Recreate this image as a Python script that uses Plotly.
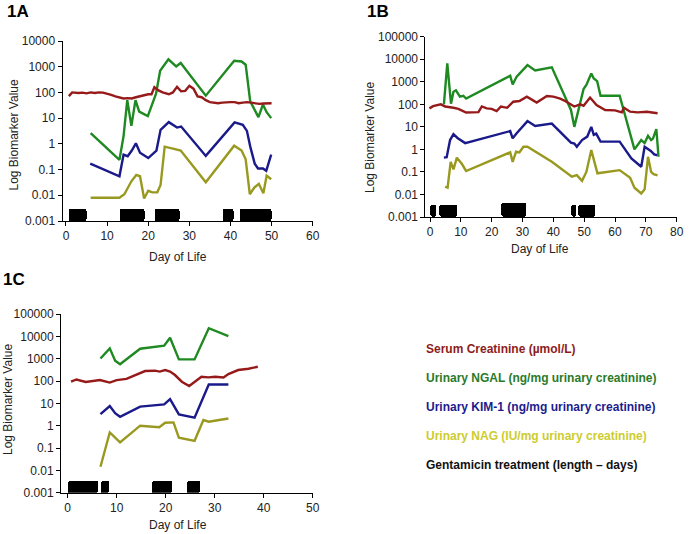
import plotly.graph_objects as go

# ---------------- Panel 1A ----------------
a_cr_day = [0.7, 1.5, 3, 4, 5, 6, 7, 8, 9, 10, 11, 12, 13, 14, 15, 16, 17, 18, 19, 20, 20.8, 21.5, 22.5, 23.5, 25, 26, 27, 28, 29, 30, 31, 32, 33, 34, 35, 36, 37, 38, 39, 40, 41, 42, 43, 44, 45, 46, 47, 48, 50]
a_cr = [72, 100, 95, 98, 92, 100, 95, 100, 98, 90, 80, 70, 62, 58, 60, 58, 65, 72, 80, 85, 85, 160, 120, 100, 85, 100, 165, 110, 115, 180, 140, 70, 65, 50, 42, 40, 38, 40, 42, 42, 42, 38, 40, 42, 40, 38, 36, 37, 38]
a_ngal_day = [6.0, 13.0, 14.0, 14.9, 15.9, 16.9, 17.8, 19.9, 21.9, 22.9, 24.9, 26.8, 27.9, 34.0, 40.9, 42.7, 43.7, 44.8, 46.8, 47.9, 48.8, 49.9]
a_ngal = [2.6, 0.24, 2.0, 50, 5, 50, 18, 12, 90, 700, 1950, 1020, 1400, 75, 1700, 1600, 1200, 45, 11, 34, 17, 10]
a_kim_day = [5.9, 13.0, 14.0, 15.0, 16.0, 17.0, 18.0, 20.0, 22.0, 23.0, 25.0, 27.0, 28.0, 34.0, 41.0, 43.0, 44.0, 44.8, 45.9, 46.7, 47.9, 48.7, 49.9]
a_kim = [0.17, 0.055, 0.38, 0.33, 0.55, 1.05, 0.45, 0.28, 0.55, 3.5, 7, 4.3, 4.7, 0.34, 6.8, 5.5, 3.2, 0.8, 0.17, 0.11, 0.11, 0.09, 0.38]
a_nag_day = [6.0, 13.0, 14.2, 15.9, 17.1, 18.0, 19.0, 20.0, 21.0, 22.2, 23.0, 24.0, 26.0, 27.9, 34.0, 40.9, 42.7, 43.7, 44.7, 45.8, 46.9, 48.0, 48.8, 49.9]
a_nag = [0.008, 0.008, 0.011, 0.035, 0.062, 0.055, 0.0075, 0.015, 0.013, 0.013, 0.025, 0.78, 0.65, 0.55, 0.032, 0.85, 0.55, 0.25, 0.011, 0.02, 0.028, 0.012, 0.058, 0.042]
a_gent_start = [0.6, 13.1, 21.5, 38.1, 42.3]
a_gent_end = [4.9, 19.2, 27.7, 40.8, 49.9]
a_gent_top = [0.0029] * 5

# ---------------- Panel 1B ----------------
b_cr_day = [-0.2, 1.0, 3.5, 4.9, 7.6, 9.2, 11.7, 15.7, 16.8, 18.4, 20.0, 21.6, 23.0, 25.0, 27.0, 29.0, 31.4, 34.6, 37.9, 40.0, 42.2, 43.8, 46.8, 48.7, 49.8, 51.9, 54.0, 56.8, 60.0, 62.2, 62.9, 64.9, 67.3, 70.3, 73.8]
b_cr = [66, 83, 100, 80, 70, 63, 43, 45, 80, 66, 63, 50, 80, 70, 130, 140, 220, 120, 235, 220, 180, 140, 80, 100, 87, 200, 93, 56, 54, 44, 70, 47, 44, 47, 40]
b_ngal_day = [4.5, 5.6, 6.8, 7.6, 8.4, 9.7, 10.8, 11.7, 26.0, 26.8, 28.1, 31.6, 34.1, 39.5, 45.7, 46.8, 49.8, 50.7, 52.3, 53.1, 54.2, 55.3, 61.5, 66.3, 68.5, 69.6, 70.7, 71.7, 72.3, 73.4, 74.1]
b_ngal = [100, 6600, 107, 360, 420, 220, 240, 180, 1850, 760, 1700, 5500, 3150, 4400, 56, 10, 480, 720, 2350, 1400, 1070, 240, 240, 1.0, 2.6, 1.9, 4, 2.6, 3, 8, 0.47]
b_kim_day = [4.5, 5.4, 6.5, 7.6, 8.9, 11.4, 26.0, 26.8, 28.1, 31.6, 34.1, 39.5, 45.7, 46.8, 47.6, 49.3, 51.0, 52.3, 53.1, 53.9, 55.3, 61.5, 65.3, 68.5, 69.6, 71.6, 72.7, 73.8]
b_kim = [0.43, 0.45, 2.6, 4.7, 3.2, 1.9, 6.5, 3.1, 5.2, 18, 11, 14, 2.0, 1.8, 1.3, 2.6, 3.7, 10, 4.4, 5, 2.2, 2.2, 0.4, 0.17, 1.3, 0.85, 0.6, 0.55]
b_nag_day = [4.9, 5.7, 6.7, 7.6, 8.7, 10.3, 11.7, 26.0, 26.8, 27.9, 29.0, 30.3, 31.6, 39.5, 46.0, 47.6, 49.3, 50.7, 52.3, 54.3, 61.5, 64.9, 66.3, 68.5, 69.6, 70.7, 71.7, 72.5, 73.8]
b_nag = [0.022, 0.02, 0.28, 0.13, 0.43, 0.23, 0.11, 0.74, 0.28, 0.8, 0.74, 1.3, 1.3, 0.28, 0.062, 0.072, 0.04, 0.1, 0.93, 0.087, 0.12, 0.055, 0.02, 0.011, 0.017, 0.47, 0.1, 0.08, 0.07]
b_gent_start = [0.0, 2.9, 23.3, 45.7, 48.2]
b_gent_end = [2.0, 9.0, 31.4, 47.4, 53.6]
b_gent_top = [0.0035, 0.0035, 0.0045, 0.0035, 0.0035]

# ---------------- Panel 1C ----------------
c_cr_day = [0.7, 1.8, 3.7, 4.8, 6.6, 8.6, 10.0, 12.0, 13.7, 15.8, 17.8, 18.8, 19.9, 20.9, 21.9, 23.3, 24.8, 26.0, 27.3, 28.7, 30.1, 31.8, 32.8, 34.8, 36.9, 38.8]
c_cr = [94, 117, 90, 100, 110, 85, 110, 125, 185, 280, 290, 265, 310, 265, 185, 93, 60, 93, 155, 145, 155, 145, 205, 310, 355, 435]
c_ngal_day = [6.7, 8.6, 9.7, 10.7, 14.8, 19.7, 20.9, 22.7, 25.9, 28.8, 32.8]
c_ngal = [1020, 2900, 810, 560, 2800, 3800, 8700, 930, 930, 23000, 10200]
c_kim_day = [6.7, 8.6, 9.7, 10.7, 14.8, 19.7, 20.9, 22.7, 25.9, 28.8, 32.8]
c_kim = [3.3, 7.6, 3.6, 2.5, 7.1, 9, 15.6, 3.2, 2.3, 70, 70]
c_nag_day = [6.7, 8.6, 10.7, 14.8, 18.7, 19.9, 21.6, 22.7, 25.9, 27.7, 28.8, 32.8]
c_nag = [0.0145, 0.5, 0.18, 1.0, 0.85, 1.35, 1.4, 0.29, 0.21, 1.8, 1.5, 2.1]
c_gent_start = [0.0, 6.8, 17.3, 24.3]
c_gent_end = [6.2, 8.4, 21.2, 27.0]
c_gent_top = [0.0032] * 4

log_tickvals = [0.001, 0.01, 0.1, 1, 10, 100, 1000, 10000, 100000]
log_ticktext = ["0.001", "0.01", "0.1", "1", "10", "100", "1000", "10000", "100000"]

legend_labels = ["Serum Creatinine (µmol/L)",
                 "Urinary NGAL (ng/mg urinary creatinine)",
                 "Urinary KIM-1 (ng/mg urinary creatinine)",
                 "Urinary NAG (IU/mg urinary creatinine)",
                 "Gentamicin treatment (length \u2013 days)"]

C_RED = "#961a1a"
C_GREEN = "#1f8a22"
C_BLUE = "#1a1a8a"
C_OLIVE = "#999920"
legend_colors = ["#8c1c1c", "#2a7a2a", "#1c1c8c", "#cccc30", "#111111"]

W, H = 689, 534
FONT = "Arial, Liberation Sans, sans-serif"

fig = go.Figure()

panels = [
    ("x", "y", a_cr_day, a_cr, a_ngal_day, a_ngal, a_kim_day, a_kim, a_nag_day, a_nag, a_gent_start, a_gent_end, a_gent_top),
    ("x2", "y2", b_cr_day, b_cr, b_ngal_day, b_ngal, b_kim_day, b_kim, b_nag_day, b_nag, b_gent_start, b_gent_end, b_gent_top),
    ("x3", "y3", c_cr_day, c_cr, c_ngal_day, c_ngal, c_kim_day, c_kim, c_nag_day, c_nag, c_gent_start, c_gent_end, c_gent_top),
]

for (xa, ya, crd, cr, nd, ng, kd, km, gd, ng2, gs, ge, gt) in panels:
    centers = [(s + e) / 2 for s, e in zip(gs, ge)]
    widths = [e - s for s, e in zip(gs, ge)]
    heights = [t - 0.001 for t in gt]
    fig.add_trace(go.Bar(x=centers, y=heights, base=[0.001] * len(gs), width=widths,
                         marker=dict(color="black", line=dict(width=0), cornerradius=2),
                         xaxis=xa, yaxis=ya, showlegend=False))
    for dx, dy, col in [(gd, ng2, C_OLIVE), (kd, km, C_BLUE), (nd, ng, C_GREEN), (crd, cr, C_RED)]:
        fig.add_trace(go.Scatter(x=dx, y=dy, mode="lines", line=dict(color=col, width=2.4),
                                 xaxis=xa, yaxis=ya, showlegend=False))

def px_x(a, b):
    return [a / W, b / W]

def px_y(top, bottom):
    return [(H - bottom) / H, (H - top) / H]

axis_common = dict(showline=True, linecolor="black", linewidth=1, ticks="outside", ticklen=4,
                   tickcolor="black", showgrid=False, zeroline=False, automargin=False,
                   tickfont=dict(family=FONT, size=12, color="#222"))

fig.update_layout(
    template="none",
    width=W, height=H, margin=dict(l=0, r=0, t=0, b=0, pad=0, autoexpand=False),
    paper_bgcolor="white", plot_bgcolor="white", showlegend=False, bargap=0,
    xaxis=dict(domain=px_x(62.5, 312.7), range=[-0.85, 60], tickvals=[0, 10, 20, 30, 40, 50, 60], anchor="y", **axis_common),
    yaxis=dict(domain=px_y(41, 221), type="log", range=[-3, 4], tickvals=log_tickvals[:8], ticktext=log_ticktext[:8], anchor="x", **axis_common),
    xaxis2=dict(domain=px_x(425.4, 676.7), range=[-1.5, 80], tickvals=[0, 10, 20, 30, 40, 50, 60, 70, 80], anchor="y2", **axis_common),
    yaxis2=dict(domain=px_y(36.7, 217), type="log", range=[-3, 5], tickvals=log_tickvals, ticktext=log_ticktext, anchor="x2", **axis_common),
    xaxis3=dict(domain=px_x(61, 312.7), range=[-1.35, 50], tickvals=[0, 10, 20, 30, 40, 50], anchor="y3", **axis_common),
    yaxis3=dict(domain=px_y(314, 492.7), type="log", range=[-3, 5], tickvals=log_tickvals, ticktext=log_ticktext, anchor="x3", **axis_common),
)

def ann(text, x, y, size=12, color="#222", bold=False, angle=0, xanchor="center"):
    t = f"<b>{text}</b>" if bold else text
    fig.add_annotation(text=t, x=x / W, y=(H - y) / H, xref="paper", yref="paper",
                       showarrow=False, xanchor=xanchor, yanchor="middle", textangle=angle,
                       borderpad=0, font=dict(family=FONT, size=size, color=color))

# panel labels
ann("1A", 6, 11, size=17, color="black", bold=True, xanchor="left")
ann("1B", 366, 11, size=17, color="black", bold=True, xanchor="left")
ann("1C", 2, 279, size=17, color="black", bold=True, xanchor="left")

# axis titles
ann("Log Biomarker Value", 13.5, 135, angle=-90)
ann("Log Biomarker Value", 370, 138, angle=-90)
ann("Log Biomarker Value", 8, 400, angle=-90)
ann("Day of Life", 178, 257)
ann("Day of Life", 540, 249)
ann("Day of Life", 178, 525)

# text legend
for i, (lab, col) in enumerate(zip(legend_labels, legend_colors)):
    ann(lab, 425, 349 + 29 * i, size=12, color=col, bold=True, xanchor="left")

fig.write_html("out.html", config={"displayModeBar": False},
               post_script="document.body.style.margin='0';document.body.style.padding='0';")
